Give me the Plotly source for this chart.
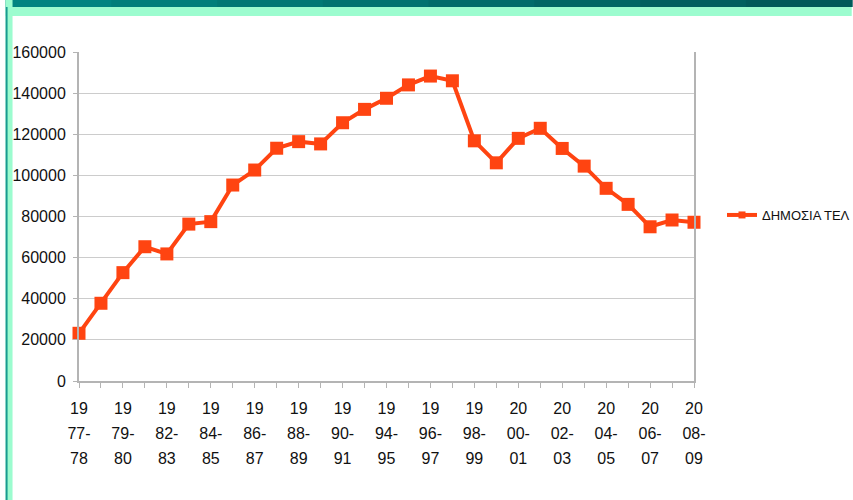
import plotly.graph_objects as go

# ---- data ----
years = ["1977-78", "1978-79", "1979-80", "1981-82", "1982-83", "1983-84", "1984-85",
         "1985-86", "1986-87", "1987-88", "1988-89", "1989-90", "1990-91", "1992-93",
         "1994-95", "1995-96", "1996-97", "1997-98", "1998-99", "1999-00", "2000-01",
         "2001-02", "2002-03", "2003-04", "2004-05", "2005-06", "2006-07", "2007-08",
         "2008-09"]
values = [23200, 37800, 52700, 65300, 61800, 76300, 77500, 95300, 102600, 113200,
          116400, 115300, 125600, 132100, 137500, 144000, 148300, 146000, 116800,
          106100, 118000, 122900, 113100, 104500, 93700, 85900, 75000, 78300, 77200]
series_name = "ΔΗΜΟΣΙΑ ΤΕΛ"
y_ticks = [0, 20000, 40000, 60000, 80000, 100000, 120000, 140000, 160000]

FONT = "Liberation Sans, Arial, sans-serif"
RED = "#ff4411"


def wrap(label):
    a, b = label.split("-")
    parts = [a[:2], a[2:] + "-", b]
    return "<br>".join(f"<span style='font-size:16px'>{p}</span>" for p in parts)


# tick labels: every other category, wrapped as in original
tick_text = [wrap(y) if i % 2 == 0 else "" for i, y in enumerate(years)]

fig = go.Figure()
fig.add_trace(go.Scatter(
    x=years, y=values, mode="lines+markers", name=series_name, showlegend=False,
    line=dict(color=RED, width=4),
    marker=dict(symbol="square", size=13, color=RED),
    cliponaxis=False,
))
# legend-only entry (smaller marker like the original legend)
fig.add_trace(go.Scatter(
    x=[None], y=[None], mode="lines+markers", name=series_name,
    line=dict(color=RED, width=4),
    marker=dict(symbol="square", size=7, color=RED),
))

fig.update_layout(
    width=853, height=500,
    margin=dict(l=74, r=159, t=52, b=119),
    paper_bgcolor="white", plot_bgcolor="white",
    font=dict(family=FONT, size=16, color="#111111"),
    showlegend=True,
    legend=dict(xref="container", yref="container",
                x=722/853, xanchor="left", y=1 - 215/500, yanchor="middle",
                font=dict(family=FONT, size=13, color="#111111"),
                bgcolor="rgba(0,0,0,0)", itemwidth=30),
    xaxis=dict(
        type="category", range=[0, 28],
        tickmode="array", tickvals=years, ticktext=tick_text,
        ticks="outside", ticklen=5, tickcolor="#b4b4b4", tickwidth=1,
        showline=True, linecolor="#b4b4b4", linewidth=2,
        showgrid=False, zeroline=False,
        tickangle=0, tickfont=dict(family=FONT, size=19.6, color="#111111"),
        ticklabelstandoff=2,
    ),
    yaxis=dict(
        range=[0, 160000], tickmode="array", tickvals=y_ticks,
        ticktext=[str(v) for v in y_ticks],
        ticks="outside", ticklen=4, tickcolor="#b4b4b4",
        showline=True, linecolor="#b4b4b4", linewidth=2,
        mirror=True,
        showgrid=True, gridcolor="#cccccc", gridwidth=1, zeroline=False,
        tickfont=dict(family=FONT, size=16, color="#111111"),
        ticklabelstandoff=4,
    ),
)

# slide border: dark teal gradient top band, light green frame
PW, L = 620, 74
fig.add_shape(type="rect", xref="paper", yref="paper",
              x0=-L/PW, x1=(853-L)/PW, y0=1 + (52-16)/329, y1=1 + 52/329,
              fillcolor="#9cfccf", line=dict(width=0), layer="above")
band_colors = ["#008480", "#007e7a", "#007874", "#00726f", "#006c6a",
               "#006664", "#00605f", "#005a5a"]
n = len(band_colors)
for k, c in enumerate(band_colors):
    fig.add_shape(type="rect", xref="paper", yref="paper",
                  x0=(-L + 853 * k / n) / PW, x1=(-L + 853 * (k + 1) / n + 1) / PW,
                  y0=1 + (52-7)/329, y1=1 + 52/329,
                  fillcolor=c, line=dict(width=0), layer="above")
fig.add_shape(type="rect", xref="paper", yref="paper",
              x0=-L/PW, x1=-67/PW, y0=-119/329, y1=1 + 52/329,
              fillcolor="#9cfccf", line=dict(width=0), layer="above")
fig.add_shape(type="rect", xref="paper", yref="paper",
              x0=-L/PW, x1=-72/PW, y0=-119/329, y1=1 + 45/329,
              fillcolor="#1a9a90", line=dict(width=0), layer="above")

fig.write_html("out.html", config={"displayModeBar": False},
               post_script="document.body.style.margin='0';document.body.style.overflow='hidden';")
